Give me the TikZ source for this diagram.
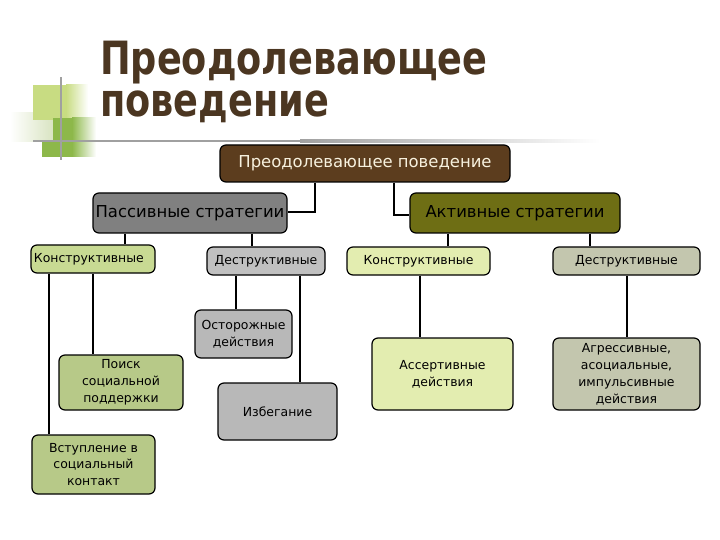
\documentclass[tikz,border=0pt]{standalone}
\usepackage{fontspec}
\setmainfont{DejaVu Sans}
\definecolor{titlec}{HTML}{4B3621}
\definecolor{rootc}{HTML}{5C3D1E}
\definecolor{roott}{HTML}{F7F1DE}
\definecolor{passc}{HTML}{808080}
\definecolor{actc}{HTML}{6E6E14}
\definecolor{pkc}{HTML}{C8DA93}
\definecolor{pdc}{HTML}{C0C0C0}
\definecolor{akc}{HTML}{E3EDB0}
\definecolor{adc}{HTML}{C3C6AE}
\definecolor{leafg}{HTML}{B7C988}
\definecolor{leafgr}{HTML}{B8B8B8}
\definecolor{decl}{HTML}{C8DC82}
\definecolor{decd}{HTML}{8DB84A}
\definecolor{decp}{HTML}{D9E4C2}
\definecolor{decline}{HTML}{A0A0A0}
\begin{document}
\begin{tikzpicture}[x=1bp,y=-1bp,
  box/.style={draw=black, line width=1.2bp, rounded corners=6bp, inner sep=2bp, align=center,
              font=\fontsize{12.5}{17}\selectfont, text=black},
  bigbox/.style={box, font=\fontsize{16.5}{18}\selectfont},
  conn/.style={draw=black, line width=2bp},
  titletext/.style={anchor=base west, inner sep=0, text=titlec, font=\bfseries\fontsize{46}{46}\selectfont, xscale=0.8, transform shape},
]
\useasboundingbox (0,0) rectangle (720,540);
% decoration
\fill[left color=white, right color=decp] (10,113) rectangle (53,142);
\fill[decl] (33,85) rectangle (66,120);
\fill[left color=decl, right color=white] (66,85) rectangle (88,120);
\fill[decd] (53,118) rectangle (72,157);
\fill[left color=decd, right color=white] (72,118) rectangle (96,157);
\fill[decd] (42,142) rectangle (53,157);
\fill[decline] (33,139.8) rectangle (300,142.2);
\fill[left color=decline, right color=white] (300,139.8) rectangle (600,142.2);
\fill[decline] (59.8,77) rectangle (62.2,160);
% title
\node[titletext] (t1) at (100,75) {Преодолевающее};
\node[titletext] (t2) at (100,117) {поведение};
% nodes
\node[bigbox, fill=rootc, text=roott, minimum width=290bp, minimum height=37bp] (root) at (365,163.5) {Преодолевающее поведение};
\node[bigbox, fill=passc, minimum width=194bp, minimum height=40bp, inner sep=1bp] (passive) at (190,213) {Пассивные стратегии};
\node[bigbox, fill=actc, minimum width=210bp, minimum height=40bp] (active) at (515,213) {Активные стратегии};
\node[box, fill=pkc, minimum width=124bp, minimum height=28bp, text width=118bp, align=left] (pk) at (93,259) {Конструктивные};
\node[box, fill=pdc, minimum width=118bp, minimum height=28bp] (pd) at (266,261) {Деструктивные};
\node[box, fill=akc, minimum width=143bp, minimum height=28bp] (ak) at (418.5,261) {Конструктивные};
\node[box, fill=adc, minimum width=147bp, minimum height=28bp] (ad) at (626.5,261) {Деструктивные};
\node[box, fill=akc, minimum width=141bp, minimum height=72bp] (assert) at (442.5,374) {Ассертивные\\действия};
\node[box, fill=adc, minimum width=147bp, minimum height=72bp] (aggr) at (626.5,374) {Агрессивные,\\асоциальные,\\импульсивные\\действия};
\node[box, fill=leafg, minimum width=124bp, minimum height=55bp] (poisk) at (121,382.5) {Поиск\\социальной\\поддержки};
\node[box, fill=leafg, minimum width=123bp, minimum height=59bp] (vst) at (93.5,464.5) {Вступление в\\социальный\\контакт};
\node[box, fill=leafgr, minimum width=97bp, minimum height=48bp] (ostor) at (243.5,334) {Осторожные\\действия};
\node[box, fill=leafgr, minimum width=119bp, minimum height=57bp] (izbeg) at (277.5,411.5) {Избегание};
% connectors
\coordinate (c1) at (315,212);
\coordinate (c2) at (394,215);
\draw[conn] (root.south -| c1) -- (c1) -- (passive.east |- c1);
\draw[conn] (root.south -| c2) -- (c2) -- (active.west |- c2);
\coordinate (x1) at (125,0);
\coordinate (x2) at (252,0);
\coordinate (x3) at (448,0);
\coordinate (x4) at (590,0);
\coordinate (x5) at (420,0);
\coordinate (x6) at (627,0);
\coordinate (x7) at (49,0);
\coordinate (x8) at (93,0);
\coordinate (x9) at (236,0);
\coordinate (x10) at (300,0);
\draw[conn] (passive.south -| x1) -- (pk.north -| x1);
\draw[conn] (passive.south -| x2) -- (pd.north -| x2);
\draw[conn] (active.south -| x3) -- (ak.north -| x3);
\draw[conn] (active.south -| x4) -- (ad.north -| x4);
\draw[conn] (ak.south -| x5) -- (assert.north -| x5);
\draw[conn] (ad.south -| x6) -- (aggr.north -| x6);
\draw[conn] (pk.south -| x7) -- (vst.north -| x7);
\draw[conn] (pk.south -| x8) -- (poisk.north -| x8);
\draw[conn] (pd.south -| x9) -- (ostor.north -| x9);
\draw[conn] (pd.south -| x10) -- (izbeg.north -| x10);
\end{tikzpicture}
\end{document}
